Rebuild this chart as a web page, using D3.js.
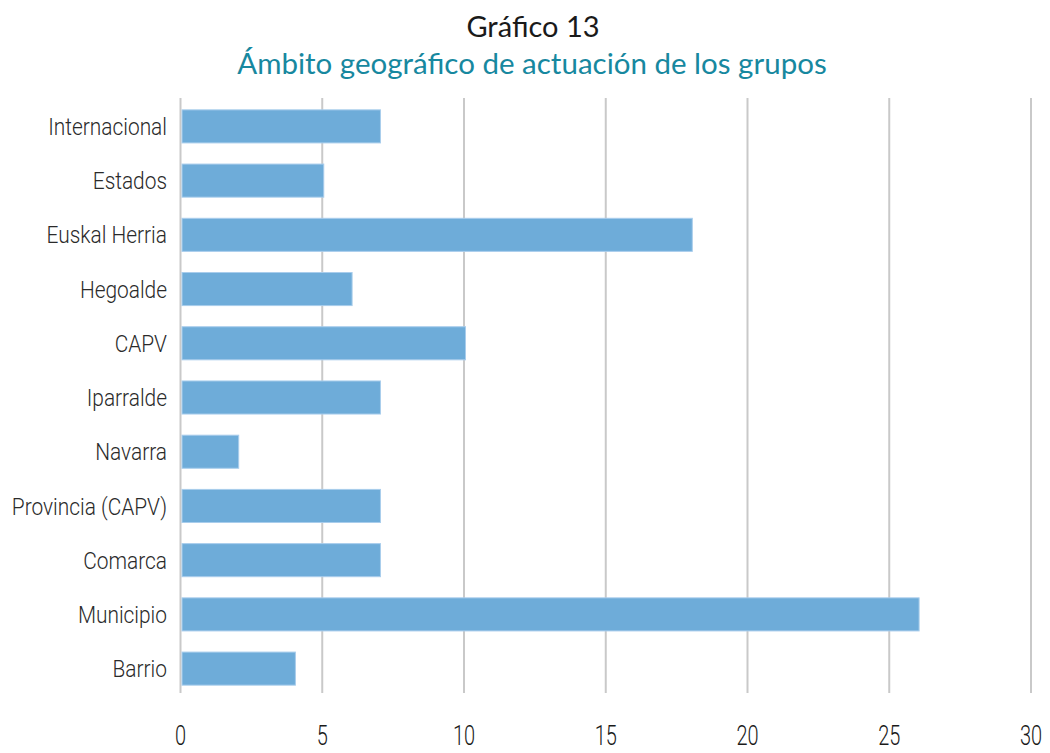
<!DOCTYPE html>
<html><head><meta charset="utf-8">
<script src="https://cdn.jsdelivr.net/npm/d3@7"></script>
<style>body{margin:0;background:#fff;}svg{display:block;}</style>
</head><body>
<svg id="chart" width="1050" height="753"></svg>
<script>
const categories = ["Internacional","Estados","Euskal Herria","Hegoalde","CAPV","Iparralde","Navarra","Provincia (CAPV)","Comarca","Municipio","Barrio"];
const values = [7,5,18,6,10,7,2,7,7,26,4];
const tickValues = [0,5,10,15,20,25,30];
const titleText = "Gráfico 13";
const subtitleText = "Ámbito geográfico de actuación de los grupos";

const svg = d3.select("#chart");
const x = d3.scaleLinear().domain([0,30]).range([180.5,1031]);
const y = d3.scaleBand().domain(categories).range([99,696]).paddingInner(0.39).paddingOuter(0.2);
const condFont = "Roboto, 'DejaVu Sans Condensed', sans-serif";

// gridlines
svg.append("g").selectAll("line").data(tickValues).join("line")
  .attr("x1", d=>x(d)).attr("x2", d=>x(d))
  .attr("y1", 98).attr("y2", 693)
  .attr("stroke", "#c9c9c9").attr("stroke-width", 2);

// bars
svg.append("g").selectAll("rect").data(values).join("rect")
  .attr("x", x(0)+1.5)
  .attr("y", (d,i)=>y(categories[i]))
  .attr("width", d=>x(d)-x(0))
  .attr("height", y.bandwidth())
  .attr("fill", "#6eacd9")
  .attr("stroke", "#a9cdec").attr("stroke-width", 1);

// category labels (condensed)
svg.append("g").selectAll("text").data(categories).join("text")
  .attr("transform", d=>`translate(167,${y(d)+y.bandwidth()/2}) scale(0.87,1)`)
  .attr("dy", "0.36em")
  .attr("text-anchor", "end")
  .attr("font-family", condFont)
  .attr("font-weight", 300)
  .attr("font-size", 24)
  .attr("fill", "#2a2a2a")
  .text(d=>d);

// x tick labels
svg.append("g").selectAll("text").data(tickValues).join("text")
  .attr("transform", d=>`translate(${x(d)},745) scale(0.74,1)`)
  .attr("text-anchor", "middle")
  .attr("font-family", condFont)
  .attr("font-weight", 300)
  .attr("font-size", 27)
  .attr("fill", "#1a1a1a")
  .text(d=>d);

svg.append("text").attr("x", 533).attr("y", 37).attr("text-anchor","middle")
  .attr("font-family","Lato, 'Noto Sans', sans-serif").attr("font-size", 29)
  .attr("fill","#1a1a1a").text(titleText);
svg.append("text").attr("x", 532).attr("y", 74).attr("text-anchor","middle")
  .attr("font-family","Lato, 'Noto Sans', sans-serif").attr("font-size", 29.5)
  .attr("fill","#17889f").text(subtitleText);
</script>
</body></html>
